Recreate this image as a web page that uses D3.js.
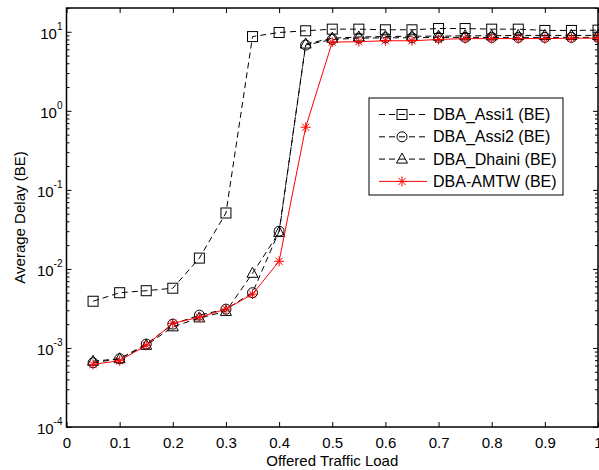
<!DOCTYPE html>
<html>
<head>
<meta charset="utf-8">
<script src="https://cdn.jsdelivr.net/npm/d3@7"></script>
<style>
  body { margin: 0; background: #fff; }
  svg { display: block; font-family: "Liberation Sans", Arial, Helvetica, sans-serif; }
</style>
</head>
<body>
<svg id="chart" width="599" height="470"></svg>
<script>
const loads = [0.05,0.10,0.15,0.20,0.25,0.30,0.35,0.40,0.45,0.50,0.55,0.60,0.65,0.70,0.75,0.80,0.85,0.90,0.95,1.00];
const assi1  = [3.9e-3,5.0e-3,5.3e-3,5.7e-3,1.37e-2,0.051,8.7,9.8,10.3,10.8,10.8,10.6,10.6,11.0,11.0,10.8,10.8,10.4,10.4,10.5];
const assi2  = [6.5e-4,7.3e-4,1.12e-3,2.0e-3,2.6e-3,3.1e-3,5.0e-3,0.030,6.8,8.0,8.3,8.4,8.4,8.5,8.5,8.5,8.5,8.5,8.5,8.5];
const dhaini = [6.8e-4,7.3e-4,1.08e-3,1.85e-3,2.4e-3,2.9e-3,8.8e-3,0.029,7.0,8.3,8.6,8.7,8.8,8.8,8.9,8.9,9.0,9.0,9.0,9.0];
const amtw   = [6.2e-4,6.9e-4,1.08e-3,2.05e-3,2.45e-3,3.1e-3,4.8e-3,0.0125,0.62,7.4,7.5,7.7,7.7,8.0,8.2,8.2,8.2,8.2,8.3,8.3];
const seriesNames = ["DBA_Assi1 (BE)","DBA_Assi2 (BE)","DBA_Dhaini (BE)","DBA-AMTW (BE)"];
const xTicks = [0,0.1,0.2,0.3,0.4,0.5,0.6,0.7,0.8,0.9,1];
const xTickLabels = ["0","0.1","0.2","0.3","0.4","0.5","0.6","0.7","0.8","0.9","1"];
const yExponents = [-4,-3,-2,-1,0,1];
const xLabel = "Offered Traffic Load";
const yLabel = "Average Delay (BE)";

const svg = d3.select("#chart");
const L = 66.5, R = 598, T = 8, B = 427;
const x = d3.scaleLinear().domain([0,1]).range([L,R]);
const y = d3.scaleLog().domain([1e-4,20]).range([B,T]);

const series = [
  {name: seriesNames[0], vals: assi1,  color:"#000", dash:"6,4", marker:"square"},
  {name: seriesNames[1], vals: assi2,  color:"#000", dash:"6,4", marker:"circle"},
  {name: seriesNames[2], vals: dhaini, color:"#000", dash:"6,4", marker:"triangle"},
  {name: seriesNames[3], vals: amtw,   color:"#ff0000", dash:null, marker:"star"}
];

function drawMarker(g, type, cx, cy, color) {
  if (type === "square") {
    g.append("rect").attr("x",cx-5).attr("y",cy-5).attr("width",10).attr("height",10)
      .attr("fill","none").attr("stroke",color).attr("stroke-width",1);
  } else if (type === "circle") {
    g.append("circle").attr("cx",cx).attr("cy",cy).attr("r",5)
      .attr("fill","none").attr("stroke",color).attr("stroke-width",1);
  } else if (type === "triangle") {
    g.append("path").attr("d",`M${cx},${cy-6}L${cx+5.5},${cy+4}L${cx-5.5},${cy+4}Z`)
      .attr("fill","none").attr("stroke",color).attr("stroke-width",1);
  } else if (type === "star") {
    const s = 5, d = 3.6;
    g.append("path").attr("d",`M${cx-s},${cy}L${cx+s},${cy}M${cx},${cy-s}L${cx},${cy+s}M${cx-d},${cy-d}L${cx+d},${cy+d}M${cx-d},${cy+d}L${cx+d},${cy-d}`)
      .attr("fill","none").attr("stroke",color).attr("stroke-width",1);
  }
}

// axes (inward ticks) bottom/top/left/right
const axB = svg.append("g").attr("transform",`translate(0,${B})`)
  .call(d3.axisBottom(x).tickValues(xTicks).tickSize(-5).tickFormat((d,i)=>xTickLabels[i]).tickPadding(10));
const axT = svg.append("g").attr("transform",`translate(0,${T})`)
  .call(d3.axisTop(x).tickValues(xTicks).tickSize(-5).tickFormat(""));
[axB, axT].forEach(a => {
  a.select(".domain").remove();
  a.selectAll("line").attr("stroke","#000");
});
axB.selectAll("text").attr("font-size",15).attr("fill","#000")
  .attr("font-family","'Liberation Sans', Arial, sans-serif");

// y ticks: major + minor
const majors = yExponents.map(e => Math.pow(10,e));
const minors = [];
yExponents.forEach(e => { for (let k=2;k<=9;k++){ const v=k*Math.pow(10,e); if (v<=20) minors.push(v);} });
const axL = svg.append("g").attr("transform",`translate(${L},0)`)
  .call(d3.axisLeft(y).tickValues(majors).tickSize(-5).tickFormat(""));
const axL2 = svg.append("g").attr("transform",`translate(${L},0)`)
  .call(d3.axisLeft(y).tickValues(minors).tickSize(-3).tickFormat(""));
const axR = svg.append("g").attr("transform",`translate(${R},0)`)
  .call(d3.axisRight(y).tickValues(majors).tickSize(-5).tickFormat(""));
const axR2 = svg.append("g").attr("transform",`translate(${R},0)`)
  .call(d3.axisRight(y).tickValues(minors).tickSize(-3).tickFormat(""));
[axL,axL2,axR,axR2].forEach(a => { a.select(".domain").remove(); a.selectAll("line").attr("stroke","#000"); });

// y tick labels with superscripts
yExponents.forEach(e => {
  const v = Math.pow(10,e);
  const t = svg.append("text").attr("x",L-4).attr("y",y(v)+7).attr("text-anchor","end")
    .attr("font-size",15).attr("fill","#000");
  t.append("tspan").text("10");
  t.append("tspan").attr("dy",-9).attr("font-size",10).text(String(e));
});

// frame
svg.append("rect").attr("x",L).attr("y",T).attr("width",R-L).attr("height",B-T)
  .attr("fill","none").attr("stroke","#000").attr("stroke-width",1.5);

// series
const line = d3.line().x((d,i)=>x(loads[i])).y(d=>y(d));
series.forEach(s => {
  const g = svg.append("g");
  g.append("path").datum(s.vals).attr("d",line).attr("fill","none")
    .attr("stroke",s.color).attr("stroke-width",1)
    .attr("stroke-dasharray",s.dash);
  s.vals.forEach((v,i) => drawMarker(g, s.marker, x(loads[i]), y(v), s.color));
});

// legend
const lg = svg.append("g");
lg.append("rect").attr("x",369).attr("y",98).attr("width",194).attr("height",97)
  .attr("fill","#fff").attr("stroke","#000").attr("stroke-width",1);
series.forEach((s,i) => {
  const yy = 114.5 + i*22.3;
  lg.append("line").attr("x1",379).attr("x2",427).attr("y1",yy).attr("y2",yy)
    .attr("stroke",s.color).attr("stroke-width",1).attr("stroke-dasharray",s.dash);
  drawMarker(lg, s.marker, 402, yy, s.color);
  lg.append("text").attr("x",433).attr("y",yy+5.5).attr("font-size",16).attr("fill","#000").text(s.name);
});

// axis labels
svg.append("text").attr("x",(L+R)/2).attr("y",466).attr("text-anchor","middle")
  .attr("font-size",15).attr("fill","#000").text(xLabel);
svg.append("text").attr("transform",`translate(25,${(T+B)/2}) rotate(-90)`).attr("text-anchor","middle")
  .attr("font-size",15).attr("fill","#000").text(yLabel);
</script>
</body>
</html>
